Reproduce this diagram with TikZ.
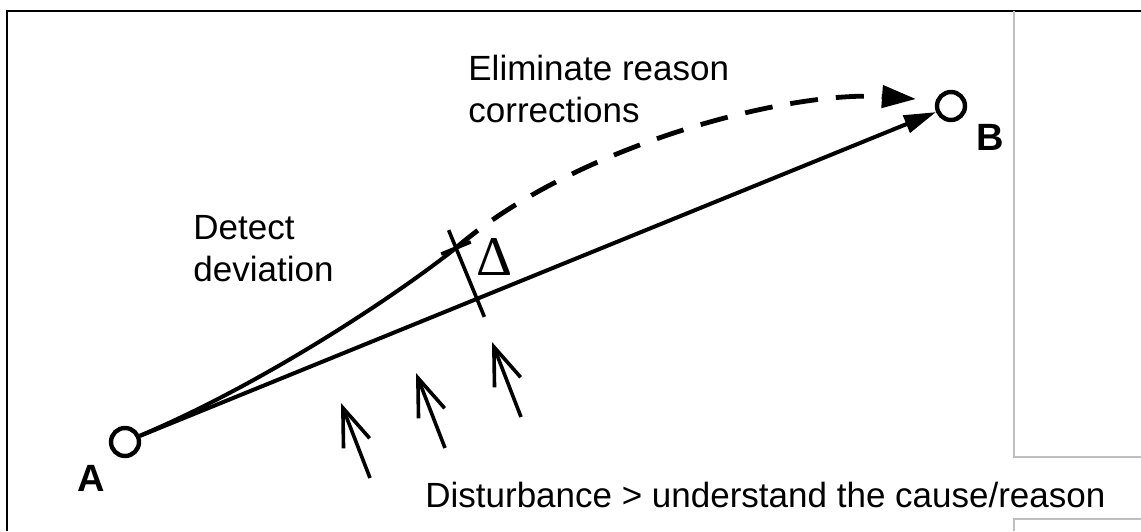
\documentclass[tikz,border=0pt]{standalone}
\usepackage{fontspec}
\setmainfont{Liberation Sans}
\newfontfamily\deltafont{Liberation Serif}
\usetikzlibrary{arrows.meta,positioning,calc}

\begin{document}
\begin{tikzpicture}[x=0.5pt,y=-0.5pt,
    station/.style={circle,draw,line width=2.2pt,minimum size=14pt,inner sep=0pt},
    stlabel/.style={font=\fontsize{19}{22}\selectfont\bfseries},
    txt/.style={font=\fontsize{17.5}{21}\selectfont,align=left,anchor=base west,inner sep=0pt},
    corr/.style={line width=2.4pt,dash pattern=on 14pt off 9pt},
    disturb/.style={line width=1.8pt,-{Straight Barb[length=19pt,width=14pt,line width=1.8pt]}}]
    \useasboundingbox (0,0) rectangle (1141,531);
    % frame
    \draw[line width=1.2pt] (7,531) -- (7,11) -- (1141,11);
    \draw[black!25,line width=0.6pt] (1014,11) -- (1014,457) -- (1141,457);
    \draw[black!25,line width=0.6pt] (1141,519) -- (1014,519) -- (1014,531);
    % start and target
    \node[station] (a) at (125,442) {};
    \node[station] (b) at (951,106) {};
    \node[stlabel] (labA) at (91,478) {A};
    \node[stlabel] (labB) at (990,137) {B};
    \coordinate (p1) at (456,248);
    \coordinate (p2) at (477,299);
    \coordinate (tip) at (916,99);
    % planned path and actual path
    \draw[line width=2pt,-{Triangle[length=16pt,width=9pt]}] (a) -- (b);
    \draw[line width=2pt] (a) .. controls (260,385) and (390,300) .. (p1);
    \draw[corr,-{Triangle[length=17pt,width=11pt]}] (p1) .. controls (575,145) and (790,90) .. (tip);
    % deviation
    \draw[line width=1.8pt] ($(p1)!-0.35!(p2)$) -- ($(p2)!-0.35!(p1)$);
    \foreach \p in {p1,p2}
        \draw[line width=1.8pt] ($(\p)!8pt!90:(p2)$) -- ($(\p)!8pt!-90:(p2)$);
    \node[font=\deltafont\fontsize{28}{30}\selectfont,inner sep=0pt] (delta) at (495,257) {Δ};
    % disturbances
    \foreach \x/\y in {370/478,445/448,521/417}
        \draw[disturb] (\x,\y) -- ++(-29,-75);
    \node[txt] (detect) at (193,281) {Detect\\deviation};
    \node[txt] (elim) at (468,122) {Eliminate reason\\corrections};
    \node[txt] (dist) at (425,507) {Disturbance > understand the cause/reason};
\end{tikzpicture}
\end{document}
